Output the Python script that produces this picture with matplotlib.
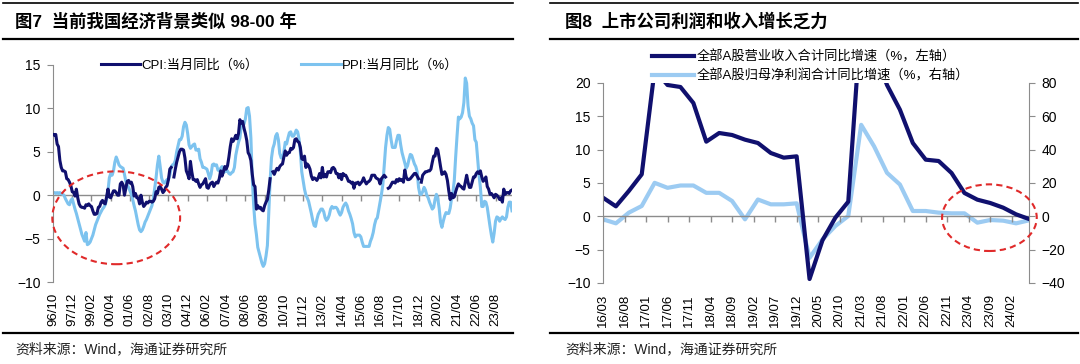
import numpy as np
import matplotlib.pyplot as plt
from matplotlib.patches import Ellipse
from matplotlib.lines import Line2D

plt.rcParams['font.family'] = ['Liberation Sans', 'Noto Sans CJK SC']

# ---- 图7: monthly, 1996/10 - 2024/08 (nan = gap in the source line)
nan = np.nan
cpi = [7.0, 6.9, 7.0,
       5.9, 5.6, 4.0, 3.2, 2.8, 2.8, 2.7, 1.9, 1.8, 1.5, 1.1, 0.4,
       0.3, -0.1, 0.7, -0.3, -1.0, -1.3, -1.4, -1.4, -1.5, -1.1, -1.2, -1.0,
       -1.2, -1.3, -1.8, -2.2, -2.2, -2.1, -1.4, -1.3, -0.8, -0.6, -0.9, -1.0,
       -0.2, 0.7, -0.2, -0.3, 0.1, 0.5, 0.5, 0.3, 0.0, 0.0, 1.3, 1.5,
       1.2, 0.0, 0.8, 1.6, 1.7, 1.4, 1.5, 1.0, -0.1, 0.2, -0.3, -0.3,
       -1.0, 0.0, -0.8, -1.3, -1.1, -0.8, -0.9, -0.7, -0.7, -0.8, -0.7, -0.4,
       0.4, 0.2, 0.9, 1.0, 0.7, 0.3, 0.5, 0.9, 1.1, 1.8, 3.0, 3.2,
       nan, 2.1, 3.0, 3.8, 4.4, 5.0, 5.3, 5.3, 5.2, 4.3, 2.8, 2.4,
       1.9, 3.9, 2.7, 1.8, 1.8, 1.6, 1.8, 1.3, 0.9, 1.2, 1.3, 1.6,
       1.9, 0.9, 0.8, 1.2, 1.4, 1.5, 1.0, 1.3, 1.5, 1.4, 1.9, 2.8,
       2.2, 2.7, 3.3, 3.0, 3.4, 4.4, 5.6, 6.5, 6.2, 6.5, 6.9, 6.5,
       7.1, 8.7, 8.3, 8.5, 7.7, 7.1, 6.3, 4.9, 4.6, 4.0, 2.4, 1.2,
       1.0, -1.6, -1.2, -1.5, -1.4, -1.7, -1.8, -1.2, -0.8, -0.5, 0.6, 1.9,
       nan, 2.7, 2.4, 2.8, 3.1, 2.9, 3.3, 3.5, 3.6, 4.4, 5.1, 4.6,
       4.9, 4.9, 5.4, 5.3, 5.5, 6.4, 6.5, 6.2, 6.1, 5.5, 4.2, 4.1,
       4.5, 3.2, 3.6, 3.4, 3.0, 2.2, 1.8, 2.0, 1.9, 1.7, 2.0, 2.5,
       2.0, 3.2, 2.1, 2.4, 2.1, 2.7, 2.7, 2.6, 3.1, 3.2, 3.0, 2.5,
       2.5, 2.0, 2.4, 1.8, 2.5, 2.3, 2.3, 2.0, 1.6, 1.6, 1.4, 1.5,
       0.8, 1.4, 1.4, 1.5, 1.2, 1.4, 1.6, 2.0, 1.6, 1.3, 1.5, 1.6,
       1.8, 2.3, 2.3, 2.3, 2.0, 1.9, 1.8, 1.3, 1.9, 2.1, 2.3, 2.1,
       nan, 0.8, 0.9, 1.2, 1.5, 1.5, 1.4, 1.8, 1.6, 1.9, 1.7, 1.8,
       1.5, 2.9, 2.1, 1.8, 1.8, 1.9, 2.1, 2.3, 2.5, 2.5, 2.2, 1.9,
       nan, 1.5, 2.3, 2.5, 2.7, 2.7, 2.8, 2.8, 3.0, 3.8, 4.5, 4.5,
       5.4, 5.2, 4.3, 3.3, 2.4, 2.5, 2.7, 2.4, 1.7, 0.5, -0.5, 0.2,
       -0.3, -0.2, 0.4, 0.9, 1.3, 1.1, 1.0, 0.8, 0.7, 1.5, 2.3, 1.5,
       0.9, 0.9, 1.5, 2.1, 2.1, 2.5, 2.7, 2.5, 2.8, 2.1, 1.6, 1.8,
       2.1, 1.0, 0.7, 0.1, 0.2, 0.0, -0.3, 0.1, 0.0, -0.2, -0.5, -0.3,
       -0.8, 0.7, 0.1, 0.3, 0.3, 0.2, 0.5, 0.6]
ppi = [0.3, 0.3, 0.2,
       0.3, 0.2, 0.3, 0.2, 0.1, 0.0, -0.4, -0.7, -1.0, -1.1, -0.6, -0.4,
       -1.0, -1.6, -2.1, -2.7, -3.3, -3.9, -4.5, -4.9, -5.3, -4.3, -5.7, -5.6,
       -5.4, -5.0, -4.6, -4.0, -3.4, -3.0, -2.6, -2.2, -1.9, -1.6, -1.4, -1.1,
       -0.5, 0.5, 2.0, 2.5, 2.3, 2.8, 3.8, 4.4, 4.0, 3.5, 3.3, 3.2,
       3.1, 2.4, 1.6, 1.2, 0.9, 0.5, 0.1, -0.5, -1.2, -1.8, -2.6, -3.4,
       -4.0, -4.2, -4.0, -3.6, -3.1, -2.8, -2.4, -2.0, -1.6, -1.2, -0.4, 0.8,
       2.0, 3.5, 4.5, 3.3, 2.0, 1.5, 1.4, 1.6, 1.8, 1.8, 2.3, 3.2,
       3.5, 3.6, 4.0, 5.0, 5.7, 6.4, 6.4, 6.8, 7.9, 8.4, 8.1, 7.1,
       5.8, 5.4, 5.6, 5.8, 5.9, 5.2, 5.2, 5.3, 4.2, 3.8, 3.2, 3.2,
       3.1, 3.0, 2.5, 1.9, 2.4, 3.5, 3.6, 3.4, 3.5, 2.9, 2.8, 3.1,
       3.3, 2.6, 2.7, 2.8, 2.8, 2.5, 2.4, 2.6, 2.7, 3.2, 4.6, 5.4,
       6.1, 6.6, 8.0, 8.1, 8.2, 8.8, 10.0, 10.1, 9.1, 6.6, 2.0, -1.1,
       -3.3, -4.5, -6.0, -6.6, -7.2, -7.8, -8.2, -7.9, -7.0, -5.8, -2.1, 1.7,
       4.3, 5.4, 5.9, 6.8, 7.1, 6.4, 4.8, 4.3, 4.3, 5.0, 6.1, 5.9,
       6.6, 7.2, 7.3, 6.8, 6.8, 7.1, 7.5, 7.3, 6.5, 5.0, 2.7, 1.7,
       0.7, 0.0, -0.3, -0.7, -1.4, -2.1, -2.9, -3.5, -3.6, -2.8, -2.2, -1.9,
       -1.6, -1.6, -1.9, -2.6, -2.9, -2.7, -2.3, -1.6, -1.3, -1.5, -1.4, -1.4,
       -1.6, -2.0, -2.3, -2.0, -1.4, -1.1, -0.9, -1.2, -1.8, -2.2, -2.7, -3.3,
       -4.3, -4.8, -4.6, -4.6, -4.6, -4.8, -5.4, -5.9, -5.9, -5.9, -5.9, -5.9,
       -5.3, -4.9, -4.3, -3.4, -2.8, -2.6, -1.7, -0.8, 0.1, 1.2, 3.3, 5.5,
       6.9, 7.8, 7.6, 6.4, 5.5, 5.5, 5.5, 6.3, 6.9, 6.9, 5.8, 4.9,
       4.3, 3.7, 3.1, 3.4, 4.1, 4.7, 4.6, 4.1, 3.6, 3.3, 2.7, 0.9,
       0.1, 0.1, 0.4, 0.9, 0.6, 0.0, -0.3, -0.8, -1.2, -1.6, -1.4, -0.5,
       0.1, -0.4, -1.5, -3.1, -3.7, -3.0, -2.4, -2.0, -2.1, -2.1, -1.5, -0.4,
       0.3, 1.7, 4.4, 6.8, 9.0, 8.8, 9.0, 9.5, 10.7, 13.5, 12.9, 10.3,
       9.1, 8.8, 8.3, 8.0, 6.4, 6.1, 4.2, 2.3, 0.9, -1.3, -1.3, -0.7,
       -0.8, -1.4, -2.5, -3.6, -4.6, -5.4, -4.4, -3.0, -2.5, -2.6, -3.0, -2.7,
       -2.5, -2.7, -2.8, -2.5, -1.4, -0.8, -0.8, -1.8]
left_ticks = ['96/10', '97/12', '99/02', '00/04', '01/06', '02/08', '03/10', '04/12',
              '06/02', '07/04', '08/06', '09/08', '10/10', '11/12', '13/02', '14/04',
              '15/06', '16/08', '17/10', '18/12', '20/02', '21/04', '22/06', '23/08']

# ---- 图8: quarterly, 2016/03 - 2024/06, on a monthly axis
rev = [2.8, 1.5, 3.8, 6.3,
       22.0, 19.7, 19.4, 17.0,
       11.2, 12.5, 12.2, 11.5,
       11.0, 9.5, 8.8, 9.0,
       -9.4, -3.6, -0.2, 2.2,
       30.0, 25.0, 19.7, 16.0,
       11.0, 8.5, 8.3, 6.5,
       3.5, 2.5, 2.0, 1.3,
       0.3, -0.4]
profit = [-1.8, -4.2, 2.2, 6.2,
          20.1, 17.1, 18.5, 18.5,
          14.1, 14.1, 9.2, -1.8,
          10.1, 7.2, 7.2, 7.8,
          -24.9, -13.9, -5.8, 0.2,
          54.9, 42.0, 26.1, 19.1,
          3.2, 3.2, 2.2, 1.8,
          1.8, -3.8, -2.2, -2.6,
          -4.2, -2.4]
right_ticks = ['16/03', '16/08', '17/01', '17/06', '17/11', '18/04', '18/09', '19/02',
               '19/07', '19/12', '20/05', '20/10', '21/03', '21/08', '22/01', '22/06',
               '22/11', '23/04', '23/09', '24/02']

NAVY = '#10106e'
LIGHT = '#7dc3ef'
LIGHT2 = '#9ccbf2'
GREY = '#8c8c8c'
RED = '#e02a2a'

W, H = 1080, 364
fig = plt.figure(figsize=(W / 100, H / 100), dpi=100)


def box(x0, y0, x1, y1):
    # pixel box (top-left origin) -> figure fraction rect
    return [x0 / W, 1 - y1 / H, (x1 - x0) / W, (y1 - y0) / H]


def hline(x0, x1, y, lw):
    fig.add_artist(Line2D([x0 / W, x1 / W], [1 - y / H, 1 - y / H], color='black', lw=lw))


# frame rules, titles, sources
for x0, x1 in [(3, 513), (550, 1078)]:
    hline(x0, x1, 3, 1.2)
    hline(x0, x1, 39, 1.6)
    hline(x0, x1, 333, 1.6)
fig.text(15 / W, 1 - 21 / H, '图7  当前我国经济背景类似 98-00 年', fontsize=12.5,
         fontweight='bold', va='center')
fig.text(565 / W, 1 - 21 / H, '图8  上市公司利润和收入增长乏力', fontsize=12.5,
         fontweight='bold', va='center')
for x in [15, 565]:
    fig.text(x / W, 1 - 349 / H, '资料来源：Wind，海通证券研究所', fontsize=10,
             va='center', color='#222222')

# ================= left chart
ax = fig.add_axes(box(53, 65, 512, 282))
xm = np.arange(len(cpi))
ax.plot(xm, cpi, color=NAVY, lw=2.2, label='CPI:当月同比（%）', zorder=3)
ax.plot(xm, ppi, color=LIGHT, lw=2.2, label='PPI:当月同比（%）', zorder=2)
ax.set_xlim(0, len(cpi) - 1)
ax.set_ylim(-10, 15)
ax.set_yticks(range(-10, 16, 5))
lt = np.arange(len(left_ticks)) * 14
ax.set_xticks(lt)
ax.set_xticklabels(left_ticks, rotation=90, fontsize=9.5)
ax.tick_params(axis='x', length=0, pad=8)
ax.tick_params(axis='y', direction='out', length=4, color=GREY, labelsize=10, pad=5)
for s in ['top', 'right', 'bottom']:
    ax.spines[s].set_visible(False)
ax.spines['left'].set_color(GREY)
ax.axhline(0, color=GREY, lw=1, zorder=1)
ax.plot(lt, np.zeros(len(lt)), ls='none', marker=3, ms=4, color=GREY, mew=1, zorder=1)
ax.add_patch(Ellipse((46, -2.6), 93, 10.7, fill=False, ec=RED, lw=1.5,
                     ls=(0, (3, 2)), clip_on=False, zorder=4))
ax.legend(loc='center left', bbox_to_anchor=(0.09, 1.0), ncol=2, frameon=False,
          fontsize=9.5, handlelength=3.0, handletextpad=0.1, columnspacing=3.2,
          borderpad=0)

# ================= right chart
axr = fig.add_axes(box(603, 83, 1029, 283))
xq = np.arange(len(rev)) * 3
l1, = axr.plot(xq, rev, color=NAVY, lw=3, label='全部A股营业收入合计同比增速（%，左轴）')
axr.set_xlim(0, 99)
axr.set_ylim(-10, 20)
axr.set_yticks(range(-10, 21, 5))
rt = np.arange(len(right_ticks)) * 5
axr.set_xticks(rt)
axr.set_xticklabels(right_ticks, rotation=90, fontsize=9.5)
axr.tick_params(axis='x', length=0, pad=8)
axr.tick_params(axis='y', direction='out', length=4, color=GREY, labelsize=10, pad=5)
axr.axhline(0, color=GREY, lw=1, zorder=1)
axr.plot(rt, np.zeros(len(rt)), ls='none', marker=3, ms=4, color=GREY, mew=1, zorder=1)

ax2 = axr.twinx()
l2, = ax2.plot(xq, profit, color=LIGHT2, lw=3, label='全部A股归母净利润合计同比增速（%，右轴）')
ax2.set_ylim(-40, 80)
ax2.set_yticks(range(-40, 81, 20))
ax2.tick_params(axis='y', direction='out', length=4, color=GREY, labelsize=10, pad=5)
for a in [axr, ax2]:
    for s in ['top', 'bottom']:
        a.spines[s].set_visible(False)
    a.spines['left'].set_color(GREY)
    a.spines['right'].set_color(GREY)
axr.spines['right'].set_visible(False)
ax2.spines['left'].set_visible(False)
# revenue line drawn above the profit line
axr.set_zorder(ax2.get_zorder() + 1)
axr.patch.set_visible(False)
axr.add_patch(Ellipse((89.8, -0.2), 22, 10, fill=False, ec=RED, lw=1.5,
                      ls=(0, (3, 2)), clip_on=False, zorder=4))
axr.legend([l1, l2], [l1.get_label(), l2.get_label()], loc='center left',
           bbox_to_anchor=(0.1, 1.083), frameon=False, fontsize=9.5,
           handlelength=3.2, handletextpad=0.2, labelspacing=0.4, borderpad=0)

fig.savefig('out.png', dpi=100)
